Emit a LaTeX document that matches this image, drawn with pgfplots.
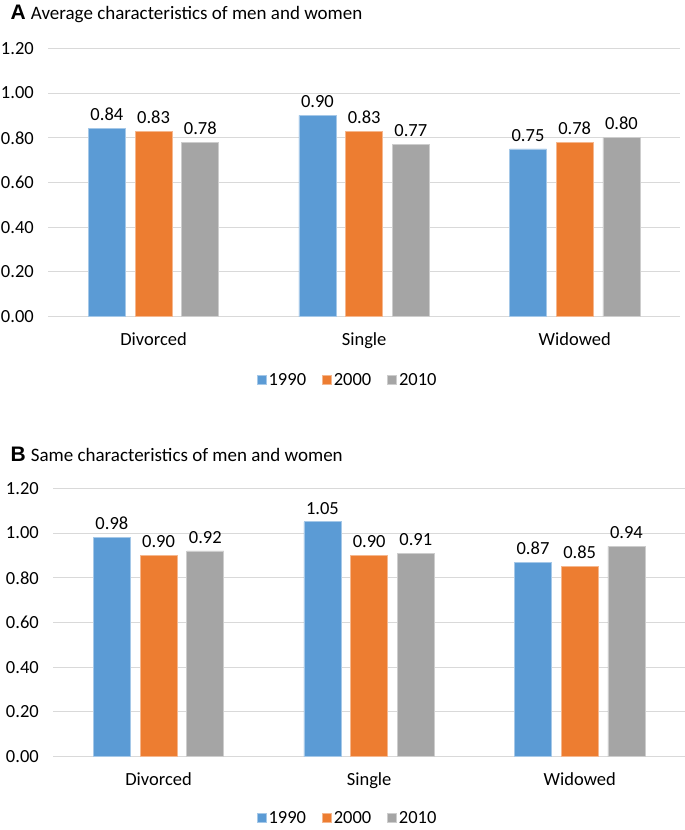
\documentclass[border=0pt]{standalone}
\usepackage{pgfplots}
\pgfplotsset{compat=1.18}
\usepackage{fontspec}
\setmainfont{Carlito}
\newfontfamily\arialfont{Liberation Sans}
\definecolor{cblue}{HTML}{5B9BD5}
\definecolor{corange}{HTML}{ED7D31}
\definecolor{cgray}{HTML}{A5A5A5}
\definecolor{cgrid}{HTML}{D9D9D9}
\pgfplotstableread{
x a b c
0 0.84 0.83 0.78
1 0.90 0.83 0.77
2 0.75 0.78 0.80
}\tabA
\pgfplotstableread{
x a b c
0 0.98 0.90 0.92
1 1.05 0.90 0.91
2 0.87 0.85 0.94
}\tabB
\newcommand\lf{\fontsize{18.5}{22}\selectfont}
\pgfplotsset{
  mystyle/.style={
    scale only axis,
    width=631.7pt, height=268.4pt,
    anchor=south west,
    ybar=9.7pt, bar width=37pt,
    xmin=-0.5, xmax=2.5, ymin=0, ymax=1.2,
    xtick={0,1,2}, xticklabels={Divorced,Single,Widowed},
    ytick={0,0.2,0.4,0.6,0.8,1.0,1.2},
    major tick length=0pt,
    axis line style={draw=none},
    ymajorgrids, grid style={draw=cgrid, line width=1pt},
    /pgf/number format/assume math mode=true,
    yticklabel style={/pgf/number format/fixed, /pgf/number format/fixed zerofill, /pgf/number format/precision=2, font=\lf, xshift=-11pt},
    xticklabel style={font=\lf, yshift=-12pt},
    nodes near coords,
    every node near coord/.append style={font=\lf, yshift=4pt, /pgf/number format/fixed, /pgf/number format/fixed zerofill, /pgf/number format/precision=2, color=black},
    legend columns=3,
    legend style={draw=none, font=\lf, anchor=center, /tikz/every even column/.append style={column sep=14pt}},
    legend image code/.code={\fill[##1] (0pt,-4.6pt) rectangle (9pt,4.6pt);},
  }
}
\begin{document}
\begin{tikzpicture}
\useasboundingbox (0,0) rectangle (685pt,830pt);
\node[anchor=base west, inner sep=0pt] at (10.5pt,810.5pt) {{\arialfont\bfseries\fontsize{21}{24}\selectfont A}\hspace{5pt}{\fontsize{19}{22}\selectfont Average characteristics of men and women}};
\begin{axis}[mystyle, at={(48.3pt,513.3pt)},
  legend style={at={(0.474,-0.235)}}]
\addplot[fill=cblue, draw=cblue!55!white, line width=0.7pt] table[x=x,y=a] {\tabA};
\addplot[fill=corange, draw=corange!55!white, line width=0.7pt] table[x=x,y=b] {\tabA};
\addplot[fill=cgray, draw=cgray!55!white, line width=0.7pt] table[x=x,y=c] {\tabA};
\legend{1990,2000,2010}
\end{axis}
\node[anchor=base west, inner sep=0pt] at (10.5pt,368.5pt) {{\arialfont\bfseries\fontsize{21}{24}\selectfont B}\hspace{5pt}{\fontsize{19}{22}\selectfont Same characteristics of men and women}};
\begin{axis}[mystyle, at={(53.3pt,73.3pt)},
  legend style={at={(0.466,-0.229)}}]
\addplot[fill=cblue, draw=cblue!55!white, line width=0.7pt] table[x=x,y=a] {\tabB};
\addplot[fill=corange, draw=corange!55!white, line width=0.7pt] table[x=x,y=b] {\tabB};
\addplot[fill=cgray, draw=cgray!55!white, line width=0.7pt] table[x=x,y=c] {\tabB};
\legend{1990,2000,2010}
\end{axis}
\end{tikzpicture}
\end{document}
